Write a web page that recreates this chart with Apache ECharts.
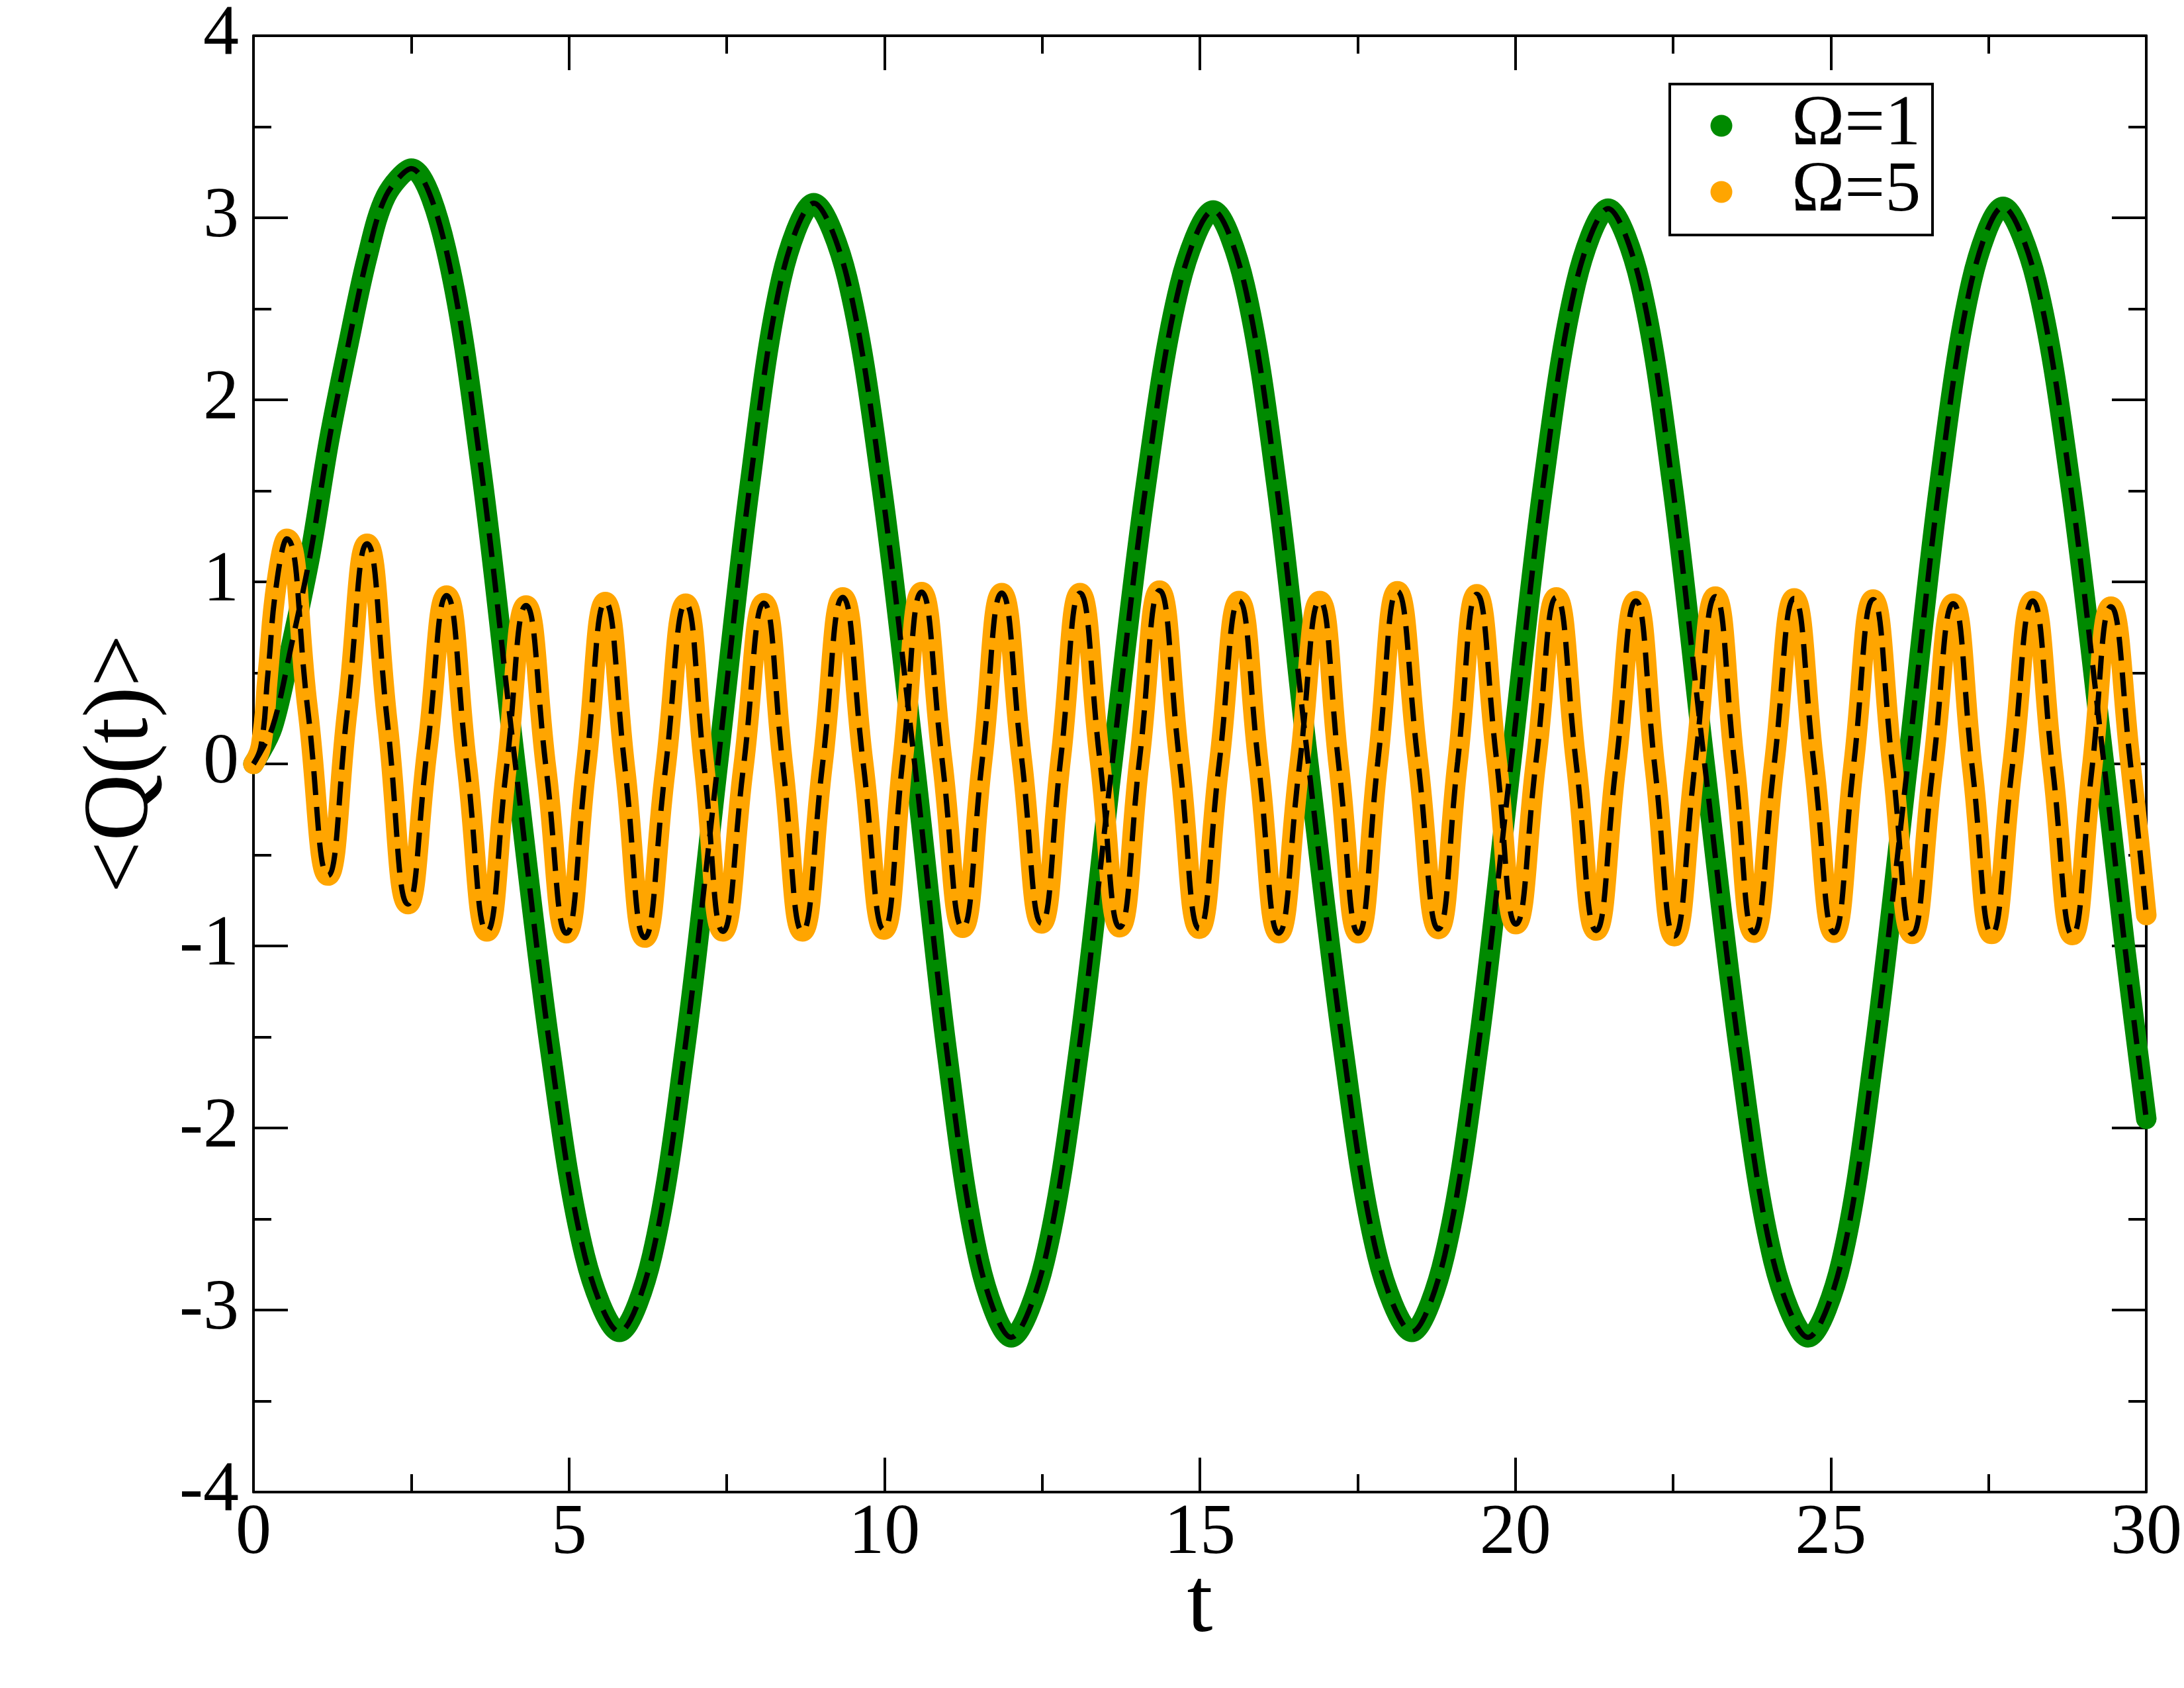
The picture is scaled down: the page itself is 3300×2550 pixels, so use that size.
<!DOCTYPE html>
<html><head><meta charset="utf-8">
<script src="https://cdn.jsdelivr.net/npm/echarts@6/dist/echarts.min.js"></script>
<style>html,body{margin:0;padding:0;background:#fff}#c{width:3300px;height:2550px}</style>
</head><body><div id="c"></div>
<script>
// ---- data ----
const seriesNames = ['Ω=1', 'Ω=5'];
const xTickValues = [0, 5, 10, 15, 20, 25, 30];
const yTickValues = [-4, -3, -2, -1, 0, 1, 2, 3, 4];
const xTitle = 't';
const yTitle = '<Q(t)>';

const tGreen = [0,0.3,0.6,0.9,1.2,1.5,1.8,2.1,2.5,3.05,3.6,4.15,4.7,5.25,5.8,6.32,6.84,7.36,7.87,8.37,8.88,9.41,9.95,10.48,10.99,11.5,12.01,12.54,13.08,13.61,14.14,14.68,15.21,15.71,16.22,16.72,17.27,17.81,18.36,18.88,19.41,19.93,20.44,20.96,21.47,21.98,22.49,23.0,23.55,24.09,24.64,25.17,25.69,26.22,26.72,27.23,27.73,28.26,28.8,29.33,29.67,30.0];
const qGreen = [0,0.2,0.65,1.15,1.78,2.3,2.78,3.12,3.27,2.83,1.64,0,-1.56,-2.7,-3.12,-2.7,-1.56,0,1.54,2.67,3.08,2.67,1.54,0,-1.58,-2.73,-3.15,-2.73,-1.58,0,1.52,2.63,3.04,2.63,1.52,0,-1.56,-2.7,-3.12,-2.7,-1.56,0,1.53,2.64,3.05,2.64,1.53,0,-1.58,-2.73,-3.15,-2.73,-1.58,0,1.53,2.65,3.06,2.65,1.53,0,-1.03,-1.95];

const tOrange = [0,0.12,0.23,0.37,0.527,0.86,1.18,1.49,1.80,2.125,2.45,2.755,3.06,3.38,3.70,4.01,4.32,4.64,4.96,5.27,5.576,5.89,6.20,6.525,6.85,7.145,7.44,7.765,8.09,8.395,8.70,9.02,9.34,9.665,9.99,10.29,10.59,10.915,11.24,11.55,11.86,12.175,12.49,12.795,13.10,13.415,13.73,14.045,14.36,14.675,14.99,15.305,15.62,15.935,16.25,16.575,16.90,17.205,17.51,17.82,18.13,18.455,18.78,19.085,19.39,19.70,20.01,20.33,20.65,20.965,21.28,21.595,21.91,22.215,22.52,22.845,23.17,23.475,23.78,24.10,24.42,24.735,25.05,25.36,25.67,25.98,26.29,26.615,26.94,27.245,27.55,27.875,28.20,28.515,28.83,29.135,29.44,29.75,30.0];
const qOrange = [0,0.1,0.5,1.0,1.236,0.3,-0.613,0.30,1.209,0.22,-0.77,0.08,0.925,0.0,-0.92,-0.02,0.87,-0.03,-0.93,-0.02,0.889,-0.03,-0.954,-0.04,0.88,-0.02,-0.92,-0.02,0.883,-0.02,-0.92,0.0,0.915,0.0,-0.91,0.02,0.944,0.02,-0.90,0.02,0.938,0.03,-0.876,0.03,0.938,0.02,-0.897,0.03,0.952,0.02,-0.905,0.0,0.895,-0.02,-0.93,-0.02,0.895,-0.02,-0.93,0.01,0.948,0.02,-0.907,0.01,0.932,0.03,-0.88,0.02,0.915,0.0,-0.915,-0.01,0.895,-0.03,-0.946,-0.01,0.919,0.0,-0.927,-0.01,0.909,-0.01,-0.927,-0.01,0.903,-0.02,-0.934,-0.03,0.88,-0.03,-0.934,-0.02,0.895,-0.02,-0.94,-0.04,0.864,0.0,-0.83];

// ---- drawing ----
const FONT = "'Liberation Serif', 'Times New Roman', serif";
const GREEN = '#008a00', ORANGE = '#ffa500';
const pairs = (ts, qs) => ts.map((t, i) => [t, qs[i]]);
const greenData = pairs(tGreen, qGreen);
const orangeData = pairs(tOrange, qOrange);

const axisBase = {
  type: 'value',
  axisLine: { show: true, onZero: false, lineStyle: { color: '#000', width: 4 } },
  axisTick: { show: true, inside: true, length: 52, lineStyle: { color: '#000', width: 4 } },
  minorTick: { show: true, splitNumber: 2, length: 27, lineStyle: { color: '#000', width: 4 } },
  splitLine: { show: false },
  minorSplitLine: { show: false }
};
const xr = { min: xTickValues[0], max: xTickValues[xTickValues.length - 1], interval: xTickValues[1] - xTickValues[0] };
const yr = { min: yTickValues[0], max: yTickValues[yTickValues.length - 1], interval: yTickValues[1] - yTickValues[0] };

// legend box (graphic elements placed where the reference has it)
const LEG = { x: 2523, y: 127, w: 397, h: 228, iconX: 2601, rowY: [190, 290], r: 16.5, textX: 2707 };
const legendGraphics = [
  { type: 'rect', shape: { x: LEG.x, y: LEG.y, width: LEG.w, height: LEG.h },
    style: { fill: '#fff', stroke: '#000', lineWidth: 4 }, z: 100 }
];
[GREEN, ORANGE].forEach((c, i) => {
  legendGraphics.push({ type: 'circle', shape: { cx: LEG.iconX, cy: LEG.rowY[i], r: LEG.r }, style: { fill: c }, z: 101 });
  legendGraphics.push({ type: 'text', x: LEG.textX, y: LEG.rowY[i],
    style: { text: seriesNames[i], font: "108px " + FONT, fill: '#000', textVerticalAlign: 'middle', textAlign: 'left' }, z: 101 });
});

const chart = echarts.init(document.getElementById('c'), null, { renderer: 'canvas' });
chart.setOption({
  animation: false,
  backgroundColor: '#fff',
  grid: { left: 383, right: 53, top: 39, bottom: 296, containLabel: false },
  xAxis: [
    Object.assign({}, axisBase, xr, {
      position: 'bottom',
      axisLabel: { fontFamily: FONT, fontSize: 108, color: '#000', margin: 10 },
      name: xTitle, nameLocation: 'middle', nameGap: 103, nameMoveOverlap: false,
      nameTextStyle: { fontFamily: FONT, fontSize: 140, color: '#000' }
    }),
    Object.assign({}, axisBase, xr, { position: 'top', axisLabel: { show: false } })
  ],
  yAxis: [
    Object.assign({}, axisBase, yr, {
      position: 'left',
      axisLabel: { fontFamily: FONT, fontSize: 108, color: '#000', margin: 22 },
      name: yTitle, nameLocation: 'middle', nameRotate: 90, nameGap: 128, nameMoveOverlap: false,
      nameTextStyle: { fontFamily: FONT, fontSize: 140, color: '#000' }
    }),
    Object.assign({}, axisBase, yr, { position: 'right', axisLabel: { show: false } })
  ],
  graphic: { elements: legendGraphics },
  series: [
    { type: 'line', name: seriesNames[0], data: greenData, smooth: 0.33, symbol: 'none', clip: false, silent: true,
      itemStyle: { color: GREEN }, lineStyle: { color: GREEN, width: 31, cap: 'round', join: 'round' }, z: 2 },
    { type: 'line', name: seriesNames[1], data: orangeData, smooth: 0.5, symbol: 'none', clip: false, silent: true,
      itemStyle: { color: ORANGE }, lineStyle: { color: ORANGE, width: 31, cap: 'round', join: 'round' }, z: 2 },
    { type: 'line', name: 'exact1', data: greenData, smooth: 0.33, symbol: 'none', silent: true,
      lineStyle: { color: '#000', width: 8, type: [36, 18] }, z: 3 },
    { type: 'line', name: 'exact5', data: orangeData, smooth: 0.5, symbol: 'none', silent: true,
      lineStyle: { color: '#000', width: 8, type: [36, 18] }, z: 3 }
  ]
});
</script></body></html>
